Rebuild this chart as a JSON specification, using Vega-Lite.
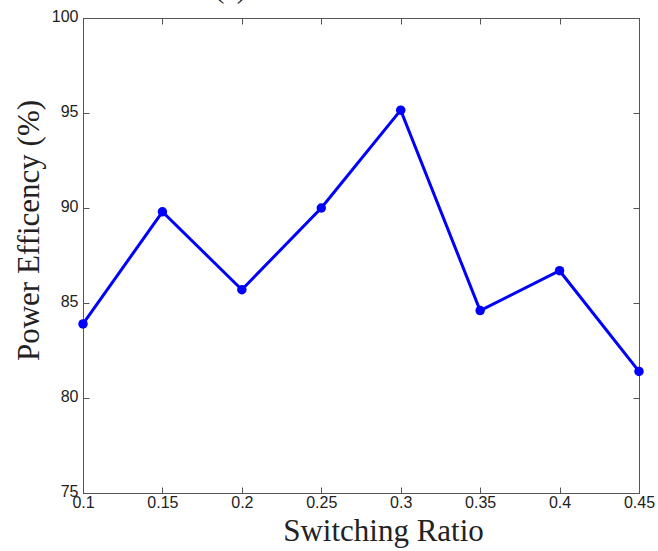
{
  "$schema": "https://vega.github.io/schema/vega-lite/v6.json",
  "autosize": {"type": "none"},
  "width": 556,
  "height": 475,
  "padding": {"left": 83, "top": 18, "right": 19, "bottom": 58},
  "background": "white",
  "title": {"text": "(c)", "anchor": "start", "frame": "group", "dx": 132, "dy": 18, "offset": 0, "baseline": "alphabetic", "font": "Liberation Serif", "fontSize": 28, "fontWeight": "normal", "color": "#222"},
  "data": {"values": [
    {"ratio": 0.10, "eff": 83.9},
    {"ratio": 0.15, "eff": 89.8},
    {"ratio": 0.20, "eff": 85.7},
    {"ratio": 0.25, "eff": 90.0},
    {"ratio": 0.30, "eff": 95.15},
    {"ratio": 0.35, "eff": 84.6},
    {"ratio": 0.40, "eff": 86.7},
    {"ratio": 0.45, "eff": 81.4}
  ]},
  "encoding": {
    "x": {"field": "ratio", "type": "quantitative", "scale": {"domain": [0.1, 0.45], "nice": false, "zero": false}},
    "y": {"field": "eff", "type": "quantitative", "scale": {"domain": [75, 100], "nice": false, "zero": false}}
  },
  "layer": [
    {
      "mark": {"type": "line", "color": "#0000ff", "strokeWidth": 3, "point": {"filled": true, "size": 90, "color": "#0000ff"}},
      "encoding": {
        "x": {"field": "ratio", "type": "quantitative",
          "axis": {"orient": "bottom", "values": [0.1, 0.15, 0.2, 0.25, 0.3, 0.35, 0.4, 0.45], "format": ".2~f",
            "title": "Switching Ratio", "titleFont": "Liberation Serif", "titleFontSize": 31, "titleFontWeight": "normal", "titleColor": "#222",
            "titleX": 300, "titleY": 47, "titleBaseline": "alphabetic", "titleAlign": "center",
            "labelFont": "Liberation Sans", "labelFontSize": 16, "labelColor": "#222", "labelPadding": 7,
            "tickSize": -6, "tickColor": "#555", "domainColor": "#555", "grid": false, "labelFlush": false}},
        "y": {"field": "eff", "type": "quantitative",
          "axis": {"orient": "left", "values": [75, 80, 85, 90, 95, 100],
            "title": "Power Efficency (%)", "titleFont": "Liberation Serif", "titleFontSize": 31, "titleFontWeight": "normal", "titleColor": "#222",
            "titleX": -38, "titleY": 212, "titleAngle": -90, "titleBaseline": "bottom", "titleAlign": "center",
            "labelFont": "Liberation Sans", "labelFontSize": 16, "labelColor": "#222", "labelPadding": 11,
            "labelBaseline": "middle", "labelOffset": -2,
            "tickSize": -6, "tickColor": "#555", "domainColor": "#555", "grid": false, "labelFlush": false}}
      }
    },
    {
      "mark": {"type": "point", "opacity": 0},
      "encoding": {
        "x": {"field": "ratio", "type": "quantitative",
          "axis": {"orient": "top", "values": [0.1, 0.15, 0.2, 0.25, 0.3, 0.35, 0.4, 0.45], "labels": false, "title": null,
            "tickSize": -6, "tickColor": "#555", "domainColor": "#555", "grid": false}},
        "y": {"field": "eff", "type": "quantitative",
          "axis": {"orient": "right", "values": [75, 80, 85, 90, 95, 100], "labels": false, "title": null,
            "tickSize": -6, "tickColor": "#555", "domainColor": "#555", "grid": false}}
      }
    }
  ],
  "resolve": {"axis": {"x": "independent", "y": "independent"}},
  "config": {"view": {"stroke": "#555"}}
}
